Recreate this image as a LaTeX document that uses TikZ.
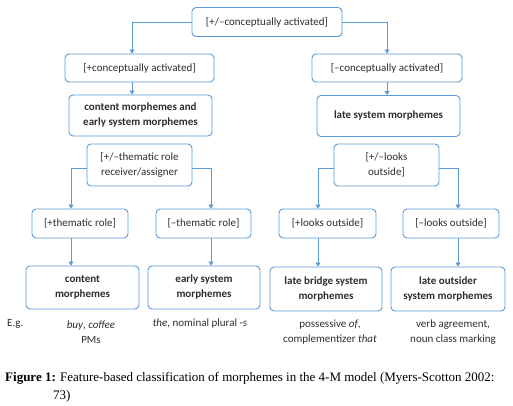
\documentclass[tikz,border=0pt]{standalone}
\usepackage{fontspec}
\setmainfont{Carlito}
\newfontfamily\capfont{Liberation Serif}
\usetikzlibrary{arrows.meta,calc}
\definecolor{bx}{RGB}{91,155,213}
\definecolor{tx}{RGB}{45,45,45}
\begin{document}
\begin{tikzpicture}[x=1pt,y=-1pt,
  box/.style={draw=bx,line width=0.9pt,rounded corners=4pt,fill=white,align=center,inner sep=0pt,text=tx,font=\fontsize{11}{15}\selectfont},
  conn/.style={draw=bx,line width=0.8pt,-{Triangle[length=4pt,width=5pt]}},
  eg/.style={text=tx,font=\fontsize{11}{15.5}\selectfont,align=center,inner sep=0pt}]
\useasboundingbox (0,0) rectangle (513,406);
\node[box,minimum width=150pt,minimum height=29pt] (top) at (267,22) {[+/\textendash conceptually activated]};
\node[box,minimum width=149pt,minimum height=28pt] (L1) at (139.5,68) {[+conceptually activated]};
\node[box,minimum width=150pt,minimum height=28pt] (R1) at (387,68) {[\textendash conceptually activated]};
\node[box,minimum width=143pt,minimum height=41pt] (L2) at (140.5,115.5) {\textbf{content morphemes and}\\\textbf{early system morphemes}};
\node[box,minimum width=143pt,minimum height=41pt] (R2) at (388.5,116) {\textbf{late system morphemes}};
\node[box,minimum width=105pt,minimum height=42pt] (L3) at (139.5,165) {[+/\textendash thematic role\\receiver/assigner};
\node[box,minimum width=105pt,minimum height=42pt] (R3) at (386.5,165) {[+/\textendash looks\\outside]};
\node[box,minimum width=96pt,minimum height=29pt] (A4) at (80,223.5) {[+thematic role]};
\node[box,minimum width=95pt,minimum height=29pt] (B4) at (203.5,223.5) {[\textendash thematic role]};
\node[box,minimum width=97pt,minimum height=29pt] (C4) at (327.5,223.5) {[+looks outside]};
\node[box,minimum width=96pt,minimum height=29pt] (D4) at (451,223.5) {[\textendash looks outside]};
\node[box,minimum width=113pt,minimum height=43pt] (A5) at (82.5,287.5) {\textbf{content}\\\textbf{morphemes}};
\node[box,minimum width=112pt,minimum height=43pt] (B5) at (204,287.5) {\textbf{early system}\\\textbf{morphemes}};
\node[box,minimum width=112pt,minimum height=44pt] (C5) at (326,289) {\textbf{late bridge system}\\\textbf{morphemes}};
\node[box,minimum width=114pt,minimum height=44pt] (D5) at (448,289) {\textbf{late outsider}\\\textbf{system morphemes}};
% connectors
\draw[conn] (top.west) -| ([xshift=-7.5pt]L1.north);
\draw[conn] (top.east) -| (R1.north);
\draw[conn] ([xshift=-7.5pt]L1.south) -- ([xshift=-7.5pt]L1.south |- L2.north);
\draw[conn] (R1.south) -- (R1.south |- R2.north);
\draw[conn] ([yshift=-3pt]L3.west) -| ([xshift=-9pt]A4.north);
\draw[conn] ([yshift=-3pt]L3.east) -| ([xshift=7.5pt]B4.north);
\draw[conn] ([yshift=-3pt]R3.west) -| ([xshift=-9.5pt]C4.north);
\draw[conn] ([yshift=-3pt]R3.east) -| ([xshift=7pt]D4.north);
\draw[conn] ([xshift=-9pt]A4.south) -- ([xshift=-9pt]A4.south |- A5.north);
\draw[conn] ([xshift=7.5pt]B4.south) -- ([xshift=7.5pt]B4.south |- B5.north);
\draw[conn] ([xshift=-9.5pt]C4.south) -- ([xshift=-9.5pt]C4.south |- C5.north);
\draw[conn] ([xshift=7pt]D4.south) -- ([xshift=7pt]D4.south |- D5.north);
% examples
\node[eg,anchor=west] (eg) at (7,324) {E.g.};
\node[eg] (exA) at (91,332) {\textit{buy}, \textit{coffee}\\PMs};
\node[eg] (exB) at (200,324) {\textit{the}, nominal plural -\textit{s}};
\node[eg] (exC) at (330,332) {possessive \textit{of},\\complementizer \textit{that}};
\node[eg] (exD) at (453,332) {verb agreement,\\noun class marking};
% caption
\node[anchor=west,inner sep=0pt,font=\capfont\fontsize{13}{18}\selectfont] (cap1) at (5,378) {\textbf{Figure 1:} Feature-based classification of morphemes in the 4-M model (Myers-Scotton 2002:};
\node[anchor=west,inner sep=0pt,font=\capfont\fontsize{13}{18}\selectfont] (cap2) at (53,396) {73)};
\end{tikzpicture}
\end{document}
